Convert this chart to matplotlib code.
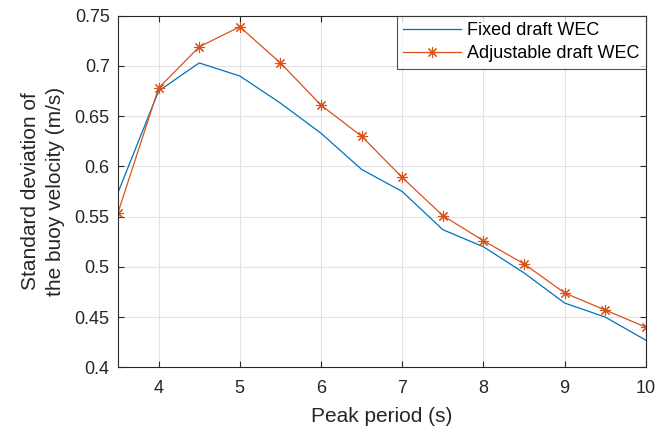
import matplotlib
matplotlib.use("Agg")
import matplotlib.pyplot as plt
from matplotlib.ticker import FuncFormatter

peak_period = [3.5, 4, 4.5, 5, 5.5, 6, 6.5, 7, 7.5, 8, 8.5, 9, 9.5, 10]
fixed_std = [0.574, 0.675, 0.703, 0.690, 0.663, 0.633, 0.597, 0.575,
             0.537, 0.520, 0.494, 0.464, 0.450, 0.427]
adjustable_std = [0.554, 0.678, 0.719, 0.739, 0.703, 0.661, 0.630, 0.589,
                  0.551, 0.526, 0.503, 0.474, 0.457, 0.440]

C_BLUE = "#0072BD"
C_ORANGE = "#D95319"
C_AXIS = "#262626"

plt.rcParams["font.family"] = ["Liberation Sans", "DejaVu Sans"]

fig = plt.figure(figsize=(6.57, 4.33), dpi=100)
ax = fig.add_axes([0.1796, 0.1517, 0.8034, 0.812])

ax.plot(peak_period, fixed_std, color=C_BLUE, lw=0.9, label="Fixed draft WEC")
ax.plot(peak_period, adjustable_std, color=C_ORANGE, lw=0.9, marker=(8, 2, 0),
        markersize=8, markeredgewidth=0.8, label="Adjustable draft WEC")

ax.set_xlim(3.5, 10)
ax.set_ylim(0.4, 0.75)
ax.set_xticks([4, 5, 6, 7, 8, 9, 10])
ax.set_yticks([0.4, 0.45, 0.5, 0.55, 0.6, 0.65, 0.7, 0.75])
ax.yaxis.set_major_formatter(FuncFormatter(lambda v, p: "%g" % round(v, 2)))

ax.grid(True, color="#e3e3e3", lw=0.8)
ax.set_axisbelow(True)
for s in ax.spines.values():
    s.set_color(C_AXIS)
    s.set_linewidth(0.8)
ax.tick_params(direction="in", top=True, right=True, length=4, width=0.8,
               colors=C_AXIS, labelsize=13)
ax.tick_params(axis="x", pad=9)
ax.tick_params(axis="y", pad=6)

ax.set_xlabel("Peak period (s)", fontsize=15, color=C_AXIS, labelpad=7)
ax.set_ylabel("Standard deviation of\nthe buoy velocity (m/s)", fontsize=15,
              color=C_AXIS, labelpad=7, linespacing=1.4)

leg = ax.legend(loc="upper right", fontsize=13, frameon=True, fancybox=False,
                borderaxespad=0, handlelength=3.2, borderpad=0.35,
                labelspacing=0.35, handletextpad=0.35)
leg.get_frame().set_edgecolor(C_AXIS)
leg.get_frame().set_linewidth(0.8)

fig.savefig("out.png", dpi=100)
